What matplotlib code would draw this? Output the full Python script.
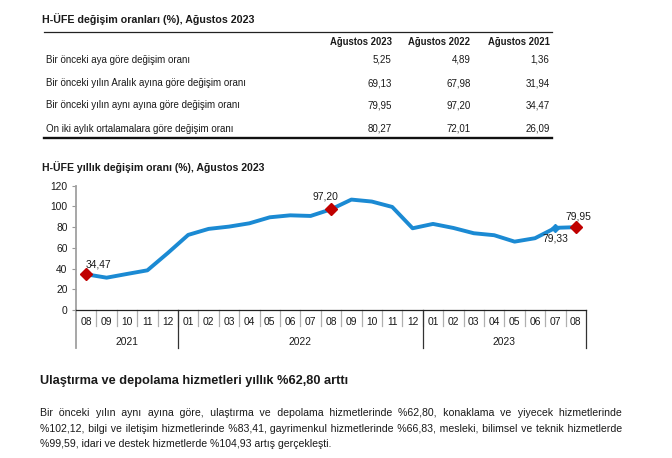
import numpy as np
import matplotlib
matplotlib.use("Agg")
from matplotlib import pyplot as plt
from matplotlib import transforms

plt.rcParams['font.family'] = ['Liberation Sans', 'DejaVu Sans']

# table data
tbl_title = "H-ÜFE değişim oranları (%), Ağustos 2023"
tbl_cols = ["Ağustos 2023", "Ağustos 2022", "Ağustos 2021"]
tbl_rows = ["Bir önceki aya göre değişim oranı",
            "Bir önceki yılın Aralık ayına göre değişim oranı",
            "Bir önceki yılın aynı ayına göre değişim oranı",
            "On iki aylık ortalamalara göre değişim oranı"]
tbl_vals = [["5,25", "4,89", "1,36"],
            ["69,13", "67,98", "31,94"],
            ["79,95", "97,20", "34,47"],
            ["80,27", "72,01", "26,09"]]

# chart data
chart_title = "H-ÜFE yıllık değişim oranı (%), Ağustos 2023"
months = ["08", "09", "10", "11", "12", "01", "02", "03", "04", "05", "06", "07", "08",
          "09", "10", "11", "12", "01", "02", "03", "04", "05", "06", "07", "08"]
years = ["2021", "2022", "2023"]
year_span = [(0, 4), (5, 16), (17, 24)]
values = [34.47, 31.2, 34.8, 38.3, 55.0, 72.5, 78.3, 80.5, 83.7, 89.5, 91.4, 90.8, 97.20,
          106.6, 104.7, 99.5, 78.9, 83.1, 79.2, 74.1, 72.2, 66.0, 69.3, 79.33, 79.95]
red_pts = [0, 12, 24]
labels = {0: "34,47", 12: "97,20", 24: "79,95", 23: "79,33"}

heading = "Ulaştırma ve depolama hizmetleri yıllık %62,80 arttı"
para_lines = ["Bir önceki yılın aynı ayına göre, ulaştırma ve depolama hizmetlerinde %62,80, konaklama ve yiyecek hizmetlerinde",
              "%102,12, bilgi ve iletişim hizmetlerinde %83,41, gayrimenkul hizmetlerinde %66,83, mesleki, bilimsel ve teknik hizmetlerde",
              "%99,59, idari ve destek hizmetlerde %104,93 artış gerçekleşti."]

W, H = 672, 458
fig = plt.figure(figsize=(W / 100, H / 100), dpi=100)
fig.patch.set_facecolor("white")
renderer = fig.canvas.get_renderer()


def fx(x):
    return x / W


def fy(y):
    return 1 - y / H


def text_w(s, size, **kw):
    t = fig.text(0, 0, s, fontsize=size, **kw)
    w = t.get_window_extent(renderer).width
    t.remove()
    return w


def fit_size(s, width, **kw):
    # font size that gives the string the wanted pixel width
    return 10 * width / text_w(s, 10, **kw)


txt_col = "#1a1a1a"

# ---- table ----
fig.text(fx(42), fy(23), tbl_title, fontsize=fit_size(tbl_title, 213, fontweight="bold"),
         fontweight="bold", color=txt_col, va="baseline")
fig.add_artist(plt.Line2D([fx(44), fx(552)], [fy(32), fy(32)], color="#222222", lw=0.9))
fig.add_artist(plt.Line2D([fx(44), fx(552)], [fy(138), fy(138)], color="#111111", lw=1.7))
col_x = [391.5, 470.5, 549.5]
hsize = fit_size(tbl_cols[0], 62, fontweight="bold")
for cx, c in zip(col_x, tbl_cols):
    fig.text(fx(cx), fy(42.3), c, fontsize=hsize, fontweight="bold", ha="right", va="center", color=txt_col)
rsize = fit_size(tbl_rows[0], 145)
row_y = [60, 83, 105.5, 128.5]
for ry, r, vals in zip(row_y, tbl_rows, tbl_vals):
    fig.text(fx(46.5), fy(ry), r, fontsize=rsize, va="center", color=txt_col)
    for cx, v in zip(col_x, vals):
        fig.text(fx(cx), fy(ry), v, fontsize=rsize, ha="right", va="center", color=txt_col)

# ---- chart ----
fig.text(fx(42), fy(170.5), chart_title, fontsize=7.6, fontweight="bold", color=txt_col, va="baseline")
ax = fig.add_axes([fx(76), fy(310), fx(586) - fx(76), (310 - 185.7) / H])
x = np.arange(len(values))
ax.plot(x, values, color="#1b8ad3", lw=2.8, solid_joinstyle="round", zorder=2)
ax.plot(red_pts, [values[i] for i in red_pts], ls="none",
        marker="D", ms=6.5, color="#c00000", zorder=3)
ax.plot([23], [values[23]], ls="none", marker="D", ms=4.5, color="#1b8ad3", zorder=3)
offs = {0: (8.6, 7.2), 12: (-4, 9.5), 24: (2, 7.5), 23: (0, -7.5)}
for i, t in labels.items():
    ax.annotate(t, (i, values[i]), xytext=offs[i], textcoords="offset points",
                ha="center", va="center", fontsize=7.4, color=txt_col)

ax.set_xlim(-0.5, len(values) - 0.5)
ax.set_ylim(0, 120)
ax.set_yticks(range(0, 121, 20))
ax.tick_params(axis="y", labelsize=7.4, length=3, color="#999999", labelcolor=txt_col, pad=3)
ax.set_xticks([])
for s in ["top", "right"]:
    ax.spines[s].set_visible(False)
ax.spines["left"].set_color("#a0a0a0")
ax.spines["left"].set_linewidth(1.3)
ax.spines["bottom"].set_color("#222222")
ax.spines["bottom"].set_linewidth(0.9)
ax.patch.set_alpha(0)

tr = transforms.blended_transform_factory(ax.transData, ax.transAxes)
for i, m in enumerate(months):
    ax.text(i, -0.097, m, transform=tr, fontsize=7.4, ha="center", va="center", color=txt_col)
    if i > 0:
        ax.plot([i - 0.5, i - 0.5], [0, -0.13], transform=tr, color="#b0b0b0", lw=0.9, clip_on=False)
for (a, b), yr in zip(year_span, years):
    ax.text((a + b) / 2, -0.255, yr, transform=tr, fontsize=7.4, ha="center", va="center", color=txt_col)
    ax.plot([b + 0.5, b + 0.5], [0, -0.305], transform=tr, color="#333333", lw=0.9, clip_on=False)
ax.plot([-0.5, -0.5], [0, -0.305], transform=tr, color="#a0a0a0", lw=1.3, clip_on=False)

# ---- text block ----
fig.text(fx(40), fy(384), heading, fontsize=fit_size(heading, 310, fontweight="bold"),
         fontweight="bold", color=txt_col, va="baseline")

psize = fit_size(para_lines[-1], 290)
x0, x1 = 40, 622
line_y = [416, 432, 447]
HAIR = "\u200a"
w_sp = text_w("a a", psize) - text_w("aa", psize)
w_hair = max(text_w("a" + HAIR + "a", psize) - text_w("aa", psize), 0.3)


def justify(line, width):
    # one string per line: widen the gaps with extra spaces / hair spaces
    words = line.split(" ")
    natural = text_w(line, psize)
    extra = (width - natural) / (len(words) - 1)
    out = words[0]
    want = 0.0
    got = 0.0
    for w in words[1:]:
        want += extra
        need = want - got
        n_sp = max(int(need // w_sp), 0)
        n_h = max(int(round((need - n_sp * w_sp) / w_hair)), 0)
        got += n_sp * w_sp + n_h * w_hair
        out += " " * (1 + n_sp) + HAIR * n_h + w
    return out


for k, (ly, line) in enumerate(zip(line_y, para_lines)):
    s = line if k == len(para_lines) - 1 else justify(line, x1 - x0)
    fig.text(fx(x0), fy(ly), s, fontsize=psize, color=txt_col, va="baseline")

fig.savefig("out.png", dpi=100, facecolor="white")
